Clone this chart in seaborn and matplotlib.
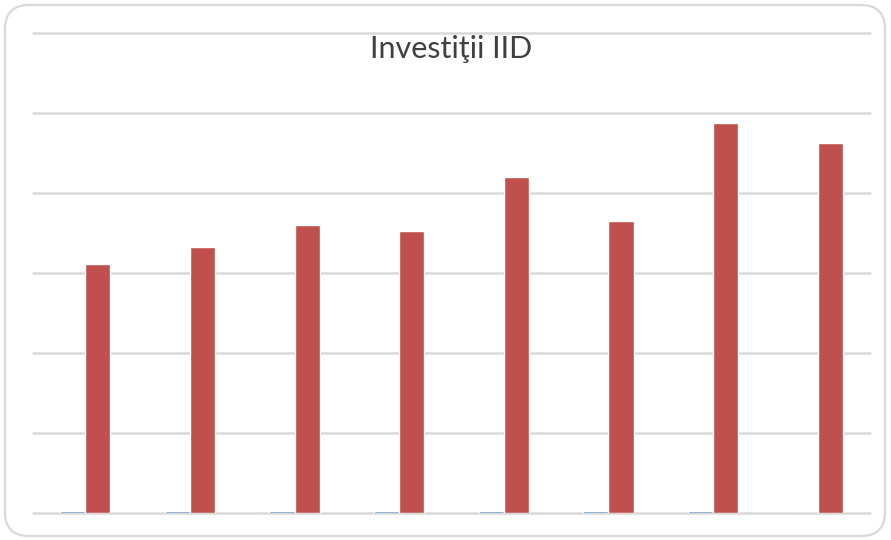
import numpy as np
import pandas as pd
import matplotlib.pyplot as plt
from matplotlib.patches import FancyBboxPatch
import seaborn as sns

categories = ["1", "2", "3", "4", "5", "6", "7", "8"]
series_blue = [30, 30, 30, 30, 30, 30, 30, 0]
series_red = [3110, 3330, 3605, 3530, 4205, 3655, 4870, 4630]

df = pd.DataFrame({
    "cat": categories * 2,
    "serie": ["a"] * len(categories) + ["b"] * len(categories),
    "val": series_blue + series_red,
})

sns.set_style("white")
plt.rcParams['font.family'] = ['Lato', 'DejaVu Sans']

fig = plt.figure(figsize=(8.91, 5.40), dpi=100)

# background axes in pixel units for the rounded chart border
bg = fig.add_axes([0, 0, 1, 1])
bg.set_xlim(0, 891)
bg.set_ylim(0, 540)
bg.axis("off")
bg.add_patch(FancyBboxPatch((5, 4), 880, 531,
                            boxstyle="round,pad=0,rounding_size=24",
                            fill=False, edgecolor="#d9d9d9", linewidth=1.6))

ax = fig.add_axes([33 / 891, 27 / 540, 837 / 891, 480 / 540])
ax.patch.set_alpha(0)

sns.barplot(data=df, x="cat", y="val", hue="serie",
            palette=["#4F81BD", "#C0504D"], width=0.48, gap=0,
            saturation=1, legend=False, ax=ax, zorder=3)

ax.set_ylim(0, 6000)
ax.set_xlim(-0.5, len(categories) - 0.5)
ax.set_yticks(np.arange(0, 6001, 1000))
ax.yaxis.grid(True, color="#d9d9d9", linewidth=1.8)
for gl in ax.get_ygridlines():
    gl.set_clip_on(False)
ax.set_axisbelow(True)
ax.set_xticks([])
ax.set_yticklabels([])
ax.tick_params(length=0)
ax.set_xlabel("")
ax.set_ylabel("")
for s in ax.spines.values():
    s.set_visible(False)

fig.text(451 / 891, 1 - 49 / 540, "Investiţii IID", ha="center", va="center",
         fontsize=22, color="#404040")

fig.savefig("out.png", dpi=100)
